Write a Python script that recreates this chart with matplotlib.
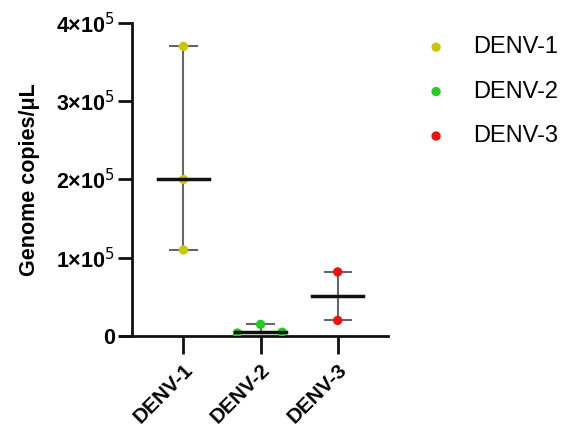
import matplotlib
matplotlib.use("Agg")
import matplotlib.pyplot as plt
import matplotlib.transforms as mtransforms
import numpy as np

plt.rcParams['font.family'] = ['Liberation Sans', 'DejaVu Sans']

categories = ["DENV-1", "DENV-2", "DENV-3"]
colors = ["#c8c800", "#22cc22", "#ee1111"]
values = {
    "DENV-1": [370000, 200000, 110000],
    "DENV-2": [4000, 15000, 5000],
    "DENV-3": [82000, 20000],
}
jitter = {
    "DENV-1": [0, 0, 0],
    "DENV-2": [-0.3, 0, 0.28],
    "DENV-3": [0, 0],
}
yticks = [0, 100000, 200000, 300000, 400000]
yticklabels = ["0", r"1×10$^{5}$", r"2×10$^{5}$", r"3×10$^{5}$", r"4×10$^{5}$"]

fig = plt.figure(figsize=(5.67, 4.32), dpi=100)
ax = fig.add_axes([0.212, 0.222, 0.472, 0.725])

for i, (cat, col) in enumerate(zip(categories, colors)):
    v = np.array(values[cat], dtype=float)
    med = np.median(v)
    ax.plot([i, i], [v.min(), v.max()], color="#666666", lw=1.5, zorder=2)
    ax.plot([i - 0.17, i + 0.17], [v.max(), v.max()], color="#666666", lw=1.5, zorder=2)
    ax.plot([i - 0.17, i + 0.17], [v.min(), v.min()], color="#666666", lw=1.5, zorder=2)
    ax.scatter(i + np.array(jitter[cat]), v, s=45, color=col, zorder=3, label=cat,
               edgecolors='none')
    ax.plot([i - 0.33, i + 0.33], [med, med], color="#111111", lw=2.5, zorder=4)

ax.set_xlim(-0.82, 2.65)
ax.set_ylim(0, 400000)
ax.spines['left'].set_position(('data', -0.67))
ax.spines['top'].set_visible(False)
ax.spines['right'].set_visible(False)
for s in ['left', 'bottom']:
    ax.spines[s].set_linewidth(2)
    ax.spines[s].set_color('#111111')
ax.set_yticks(yticks)
ax.set_yticklabels(yticklabels, fontsize=15.5, fontweight='bold')
ax.set_xticks(range(len(categories)))
ax.set_xticklabels(categories, rotation=45, ha='right', rotation_mode='anchor',
                   fontsize=15, fontweight='bold')
offset = mtransforms.ScaledTranslation(5 / 100, 0, fig.dpi_scale_trans)
for lab in ax.get_xticklabels():
    lab.set_transform(lab.get_transform() + offset)
ax.tick_params(axis='y', width=2, length=10, color='#111111', pad=2)
ax.tick_params(axis='x', width=2, length=13, color='#111111', pad=4)
ax.set_ylabel("Genome copies/μL", fontsize=15.5, fontweight='bold', labelpad=12)

leg = fig.legend(loc='upper left', bbox_to_anchor=(0.69, 0.965), frameon=False,
                 fontsize=17, handletextpad=0.55, labelspacing=0.95, markerscale=1.0)

fig.savefig("out.png", dpi=100)
